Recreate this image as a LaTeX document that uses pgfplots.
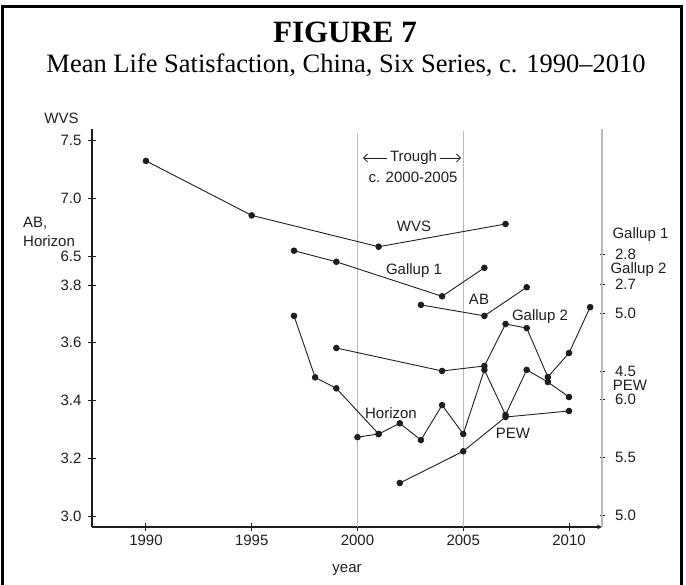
\documentclass[border=0pt]{standalone}
\usepackage{fontspec}
\setmainfont{Liberation Serif}
\setsansfont{Liberation Sans}
\usepackage{pgfplots}
\pgfplotsset{compat=1.18}
\usetikzlibrary{arrows.meta}

\definecolor{ink}{RGB}{30,30,30}
\definecolor{guide}{RGB}{185,185,185}

\tikzset{
  lab/.style={font=\sffamily\fontsize{15}{18}\selectfont, text=ink, inner sep=0pt},
}
\pgfplotsset{
  panel/.style={scale only axis, width=510pt, height=398pt, at={(92pt,58pt)}, anchor=south west,
    xmin=1987.45, xmax=2011.56, clip=false,
    tick align=outside, major tick length=8pt,
    tick style={ink, line width=0.9pt},
    every tick label/.append style={font=\sffamily\fontsize{15}{18}\selectfont, text=ink},
    /pgf/number format/assume math mode=true,
    yticklabel style={/pgf/number format/fixed, /pgf/number format/fixed zerofill,
      /pgf/number format/precision=1},
  },
  left panel/.style={panel, axis y line=left, axis line style={-, ink, line width=1.2pt},
    yticklabel style={xshift=-3pt}},
  right panel/.style={panel, axis x line=none, xtick=\empty, axis y line=right,
    axis line style={-, guide, line width=2.5pt}, major tick length=5pt,
    yticklabel style={xshift=7pt}},
  series/.style={ink, line width=0.9pt, mark=*, mark size=2.8pt, mark options={solid, fill=ink}},
}

\begin{document}
\begin{tikzpicture}[x=1pt,y=1pt]
\useasboundingbox (0,0) rectangle (686,585);
\draw[line width=3pt] (2,-10) -- (2,578.5) -- (681,578.5) -- (681,-10);
\node[anchor=base, font=\bfseries\fontsize{31}{36}\selectfont] at (345,542) {FIGURE 7};
\node[anchor=base, font=\fontsize{26.5}{30}\selectfont] at (346,512.5) {Mean Life Satisfaction, China, Six Series, c. 1990--2010};

% WVS scale (left, top) and the year axis
\begin{axis}[left panel, axis x line=bottom, xtick={1990,1995,...,2010},
  xticklabel style={/pgf/number format/1000 sep={}},
  ymin=4.164, ymax=7.595, ytick={6.5,7.0,7.5}]
\draw[guide, line width=1.3pt] (axis cs:2000,4.164) -- (axis cs:2000,7.56);
\draw[guide, line width=1.3pt] (axis cs:2005,4.164) -- (axis cs:2005,7.578);
\addplot[series] coordinates {(1990,7.32) (1995,6.85) (2001,6.58) (2007,6.776)};
\end{axis}

% AB and Horizon scale (left, bottom)
\begin{axis}[left panel, axis x line=none, xtick=\empty,
  ymin=2.962, ymax=4.340, ytick={3.0,3.2,3.4,3.6,3.8}]
\addplot[series] coordinates {(2003,3.731) (2006,3.693) (2008,3.792)};
\addplot[series] coordinates {(1997,3.693) (1998,3.480) (1999,3.442) (2001,3.284)};
\addplot[series] coordinates {(2000,3.273) (2001,3.284) (2002,3.321) (2003,3.263) (2004,3.384)
  (2005,3.284) (2006,3.506) (2007,3.350) (2008,3.506) (2009,3.464) (2010,3.412)};
\end{axis}

% Gallup 1 scale (right, top)
\begin{axis}[right panel, ymin=1.89, ymax=3.2167, ytick={2.7,2.8}]
\addplot[series] coordinates {(1997,2.811) (1999,2.774) (2004,2.659) (2006,2.754)};
\end{axis}

% Gallup 2 scale (right, middle)
\begin{axis}[right panel, ymin=3.155, ymax=6.586, ytick={4.5,5.0}]
\addplot[series] coordinates {(1999,4.698) (2004,4.500) (2006,4.543) (2007,4.905)
  (2008,4.870) (2009,4.448) (2010,4.655) (2011,5.050)};
\end{axis}

% PEW scale (right, bottom)
\begin{axis}[right panel, ymin=4.897, ymax=8.328, ytick={5.0,5.5,6.0}]
\addplot[series] coordinates {(2002,5.276) (2005,5.550) (2007,5.845) (2010,5.897)};
\end{axis}

% labels
\node[lab] at (61.5,467) {WVS};
\node[lab, anchor=west] at (23,362) {AB,};
\node[lab, anchor=west] at (23,344) {Horizon};
\node[lab] at (413.5,427) {Trough};
\draw[ink, line width=0.8pt, {Straight Barb[length=4pt]}-] (363,427) -- (387,427);
\draw[ink, line width=0.8pt, -{Straight Barb[length=4pt]}] (440,427) -- (461,427);
\node[lab] at (413,408) {c. 2000-2005};
\node[lab] at (414,359) {WVS};
\node[lab] at (414,314) {Gallup 1};
\node[lab] at (479,286) {AB};
\node[lab] at (540,268) {Gallup 2};
\node[lab] at (391,172) {Horizon};
\node[lab] at (513,152) {PEW};
\node[lab] at (640.5,350) {Gallup 1};
\node[lab] at (638.5,315) {Gallup 2};
\node[lab] at (630,200) {PEW};
\node[lab] at (347,15) {year};
\end{tikzpicture}
\end{document}
